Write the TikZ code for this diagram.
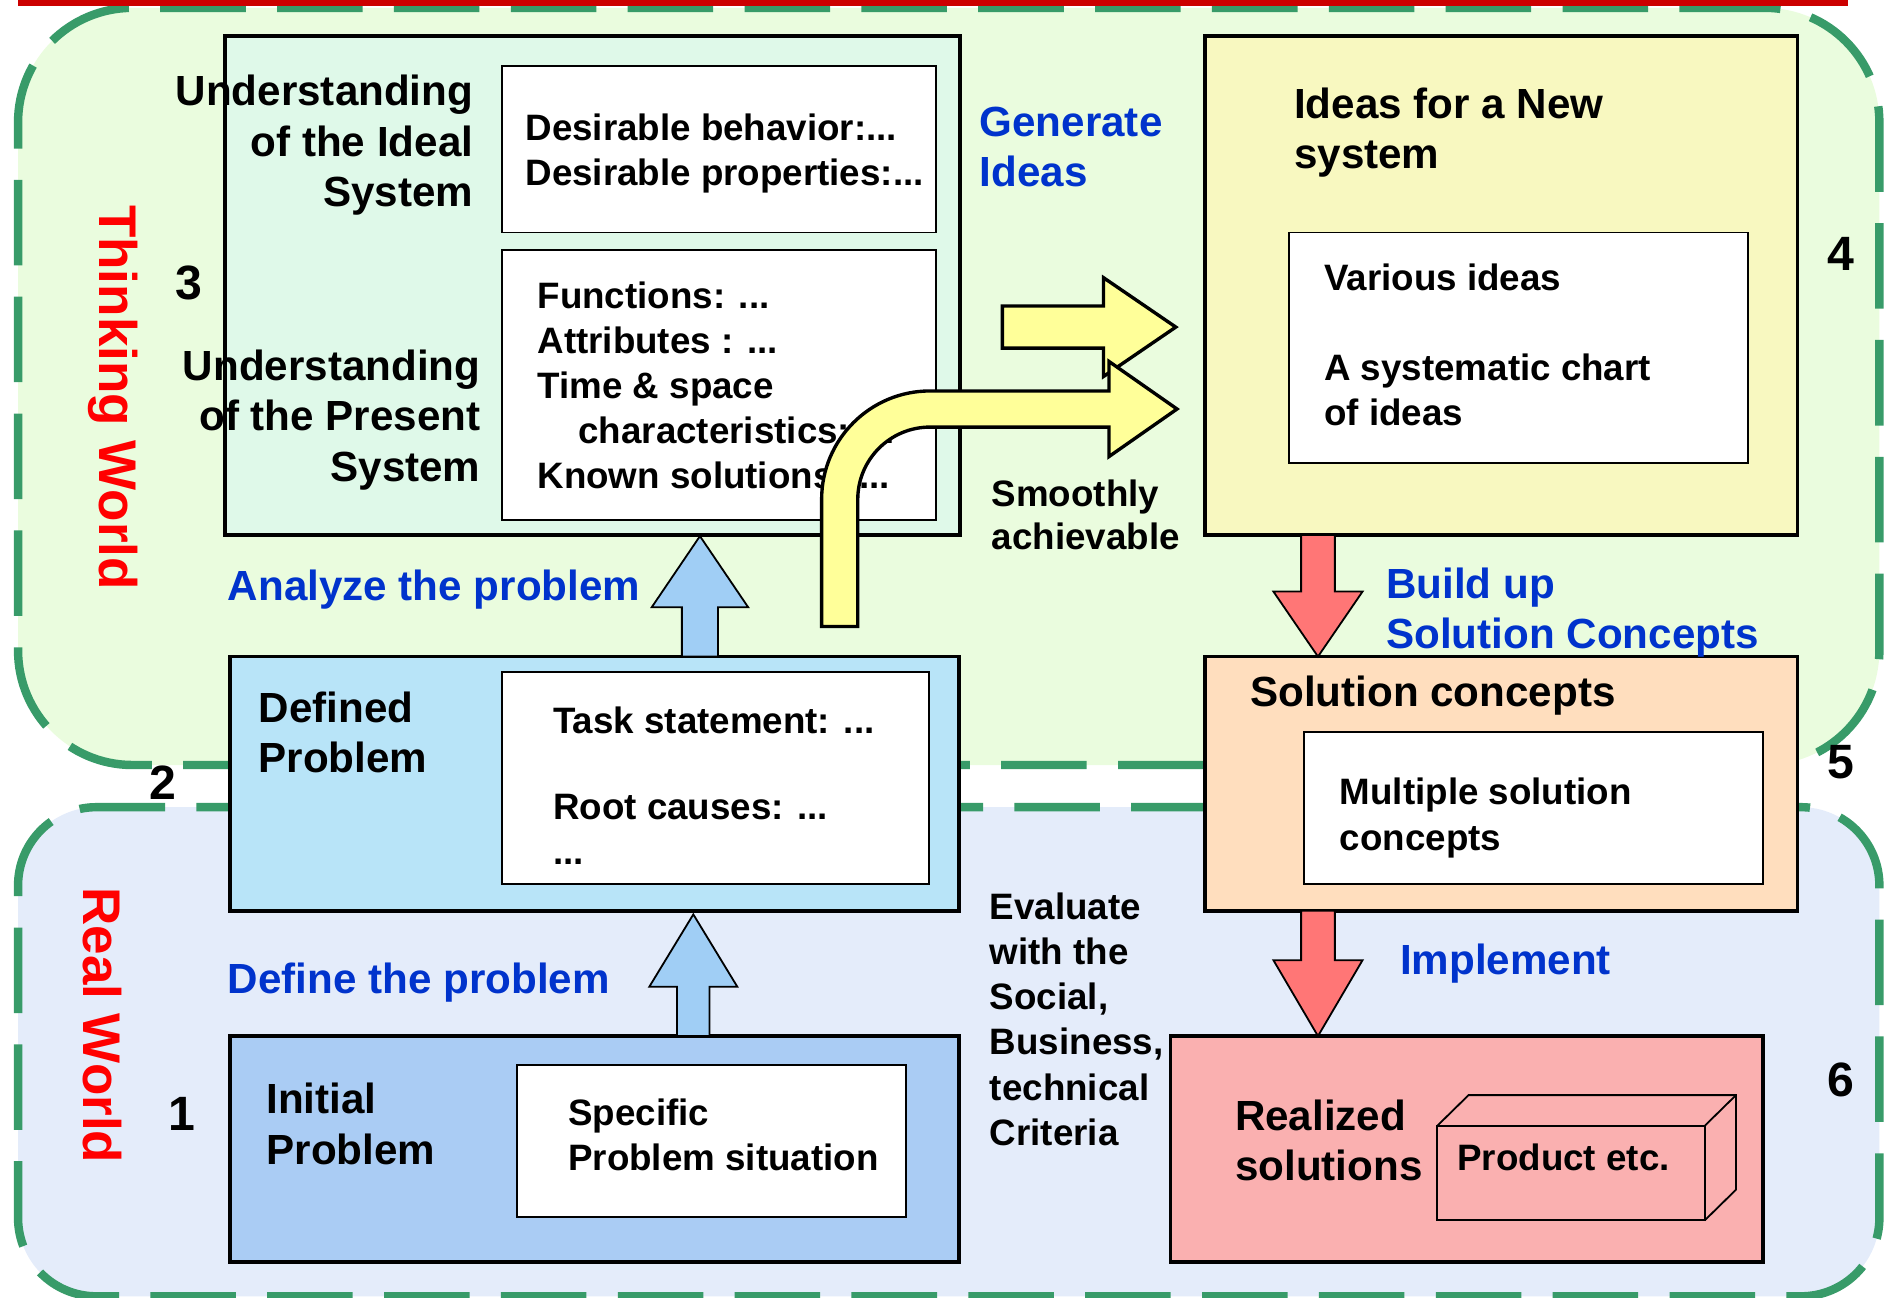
\documentclass[tikz,border=0pt]{standalone}
\usepackage{fontspec}
\setmainfont{Liberation Sans}
\usetikzlibrary{calc}

\definecolor{worldgreen}{RGB}{56,155,105}
\definecolor{thinkfill}{RGB}{234,252,222}
\definecolor{realfill}{RGB}{228,236,250}
\definecolor{understandfill}{RGB}{223,249,233}
\definecolor{ideasfill}{RGB}{248,248,192}
\definecolor{solutionfill}{RGB}{255,222,190}
\definecolor{realizedfill}{RGB}{250,176,176}
\definecolor{definedfill}{RGB}{184,228,248}
\definecolor{initialfill}{RGB}{170,204,244}
\definecolor{arrowblue}{RGB}{160,206,245}
\definecolor{arrowred}{RGB}{255,118,118}
\definecolor{arrowyellow}{RGB}{255,255,153}
\definecolor{labelblue}{RGB}{0,51,204}
\definecolor{worldred}{RGB}{255,0,0}
\definecolor{topred}{RGB}{204,0,0}

\begin{document}
\begin{tikzpicture}[x=1pt, y=-1pt,
  world/.style={draw=worldgreen, line width=7pt, dash pattern=on 71pt off 26pt, anchor=north west, inner sep=0pt, outer sep=0pt},
  box/.style={draw, line width=3pt, anchor=north west, inner sep=0pt, outer sep=0pt},
  inbox/.style={draw, fill=white, line width=1.6pt, anchor=north west, inner sep=0pt, outer sep=0pt},
  headtxt/.style={anchor=north west, inner sep=0pt, align=left, font=\fontsize{35}{42}\selectfont\bfseries},
  bodytxt/.style={anchor=north west, inner sep=0pt, align=left, font=\fontsize{30.5}{37.5}\selectfont\bfseries},
  actiontxt/.style={headtxt, text=labelblue},
  num/.style={inner sep=0pt, font=\fontsize{40}{48}\selectfont\bfseries},
  worldname/.style={inner sep=0pt, rotate=-90, text=worldred, font=\fontsize{44}{52}\selectfont\bfseries},
  blockblue/.style={draw, line width=1.5pt, fill=arrowblue},
  blockred/.style={draw, line width=1.5pt, fill=arrowred},
  blockyellow/.style={draw, line width=2.8pt, fill=arrowyellow},
]
\useasboundingbox (0,0) rectangle (1568,1077);

% World regions
\node[world, fill=thinkfill, rounded corners=95pt, minimum width=1545pt, minimum height=628.5pt] (thinking) at (15,6.5) {};
\node[world, fill=realfill, rounded corners=65pt, minimum width=1545pt, minimum height=406pt] (real) at (15,670) {};
\draw[topred, line width=10pt] (15,0) -- (1534,0);

% 3: Understanding
\node[box, fill=understandfill, minimum width=610pt, minimum height=414pt] (understand) at (187,30) {};
\node[inbox, minimum width=360pt, minimum height=138pt] (ideal) at (417,55) {};
\node[inbox, minimum width=360pt, minimum height=224.5pt] (present) at (417,207.5) {};
\node[headtxt, anchor=north east, align=right] (idealtxt) at (393,62) {Understanding\\of the Ideal\\System};
\node[bodytxt] (idealitems) at (436,94) {Desirable behavior:...\\Desirable properties:...};
\node[headtxt, anchor=north east, align=right] (presenttxt) at (399,290) {Understanding\\of the Present\\System};
\node[bodytxt] (presentitems) at (446,233.5) {Functions: ...\\Attributes : ...\\Time \& space\\\hspace*{34pt}characteristics: ...\\Known solutions: ...};

% 4: Ideas
\node[box, fill=ideasfill, minimum width=492pt, minimum height=414pt] (ideas) at (1000,30) {};
\node[inbox, minimum width=381pt, minimum height=191.5pt] (ideachart) at (1070,193) {};
\node[headtxt] (ideastxt) at (1074,72.5) {Ideas for a New\\system};
\node[bodytxt] (various) at (1099,218.5) {Various ideas};
\node[bodytxt] (chart) at (1099,293.5) {A systematic chart\\of ideas};

% 5: Solution concepts
\node[box, fill=solutionfill, minimum width=492pt, minimum height=211pt] (solution) at (1000,545) {};
\node[inbox, minimum width=381pt, minimum height=126pt] (multiple) at (1082.6,607.6) {};
\node[headtxt] (solutiontxt) at (1037.5,561) {Solution concepts};
\node[bodytxt] (multipletxt) at (1112,645.8) {Multiple solution\\concepts};

% 6: Realized solutions
\node[box, fill=realizedfill, minimum width=492pt, minimum height=187.5pt] (realized) at (971.5,860) {};
\node[headtxt] (realizedtxt) at (1025,912.5) {Realized\\solutions};
\node[draw, line width=1.5pt, anchor=north west, inner sep=0pt, outer sep=0pt, minimum width=222pt, minimum height=78.5pt] (product) at (1193,934.5) {};
\draw[line width=1.5pt] (product.north west) -- ++(26,-25.5) -| ($(product.south east)+(26,-25.5)$) -- (product.south east);
\draw[line width=1.5pt] (product.north east) -- ++(26,-25.5);
\node[bodytxt] (producttxt) at (1209.5,949) {Product etc.};

% 2: Defined problem
\node[box, fill=definedfill, minimum width=605pt, minimum height=211pt] (defined) at (191,545) {};
\node[inbox, minimum width=354pt, minimum height=176pt] (tasks) at (417,557.5) {};
\node[headtxt] (definedtxt) at (214.5,574) {Defined\\Problem};
\node[bodytxt] (tasktxt) at (459,586.4) {Task statement: ...};
\node[bodytxt] (causetxt) at (459,659.3) {Root causes: ...\\...};

% 1: Initial problem
\node[box, fill=initialfill, minimum width=605pt, minimum height=187.5pt] (initial) at (191,860) {};
\node[inbox, minimum width=322.5pt, minimum height=126pt] (situation) at (429.5,884) {};
\node[headtxt] (initialtxt) at (221,899) {Initial\\Problem};
\node[bodytxt] (situationtxt) at (471.5,912) {Specific\\Problem situation};

% Define the problem
\draw[blockblue] let \p1=([xshift=82pt]initial.north), \p2=(defined.south) in
  (\x1-13.5pt,\y1) -- (\x1-13.5pt,\y2-63pt) -- (\x1-36.5pt,\y2-63pt) -- (\x1,\y2-3pt)
  -- (\x1+36.5pt,\y2-63pt) -- (\x1+13.5pt,\y2-63pt) -- (\x1+13.5pt,\y1) -- cycle;

% Analyze the problem
\draw[blockblue] let \p1=([xshift=87.5pt]defined.north), \p2=(understand.south) in
  (\x1-15pt,\y1) -- (\x1-15pt,\y2-60pt) -- (\x1-40pt,\y2-60pt) -- (\x1,\y2-1pt)
  -- (\x1+40pt,\y2-60pt) -- (\x1+15pt,\y2-60pt) -- (\x1+15pt,\y1) -- cycle;

% Build up solution concepts
\draw[blockred] let \p1=([xshift=-152pt]ideas.south), \p2=(solution.north) in
  (\x1-14pt,\y1) -- (\x1-14pt,\y2+54pt) -- (\x1-37pt,\y2+54pt) -- (\x1,\y2)
  -- (\x1+37pt,\y2+54pt) -- (\x1+14pt,\y2+54pt) -- (\x1+14pt,\y1) -- cycle;

% Implement
\draw[blockred] let \p1=([xshift=-152pt]solution.south), \p2=(realized.north) in
  (\x1-14pt,\y1) -- (\x1-14pt,\y2+63pt) -- (\x1-37pt,\y2+63pt) -- (\x1,\y2)
  -- (\x1+37pt,\y2+63pt) -- (\x1+14pt,\y2+63pt) -- (\x1+14pt,\y1) -- cycle;

% Generate ideas
\draw[blockyellow] let \p1=(understand.east), \p2=(ideas.west) in
  (\x1+35pt,\y1-17pt) -- (\x2-84pt,\y1-17pt) -- (\x2-84pt,\y1+6.5pt) -- (\x2-24pt,\y1-34.5pt)
  -- (\x2-84pt,\y1-75.5pt) -- (\x2-84pt,\y1-52pt) -- (\x1+35pt,\y1-52pt) -- cycle;

% Smoothly achievable
\draw[blockyellow] (682,520) -- (682,414.5) arc[start angle=180, end angle=90, radius=90pt]
  -- (920.5,324.5) -- (920.5,300) -- ($(ideas.west)+(-23,102.5)$) -- (920.5,379)
  -- (920.5,354.5) -- (772,354.5) arc[start angle=90, end angle=180, radius=60pt]
  -- (712,520) -- cycle;

% Labels
\node[actiontxt] (generate) at (813,88.5) {Generate\\Ideas};
\node[actiontxt] (analyze) at (189,472.5) {Analyze the problem};
\node[actiontxt] (define) at (189,799) {Define the problem};
\node[actiontxt] (buildup) at (1150.5,471) {Build up\\Solution Concepts};
\node[actiontxt] (implement) at (1162,783.5) {Implement};
\node[bodytxt, font=\fontsize{30.5}{36}\selectfont\bfseries] (smooth) at (823,398) {Smoothly\\achievable};
\node[bodytxt] (evaluate) at (821.5,740.8) {Evaluate\\with the\\Social,\\Business,\\technical\\Criteria};

% Numbers
\node[num] (n1) at (151,924.5) {1};
\node[num] (n2) at (135,650) {2};
\node[num] (n3) at (156.5,235) {3};
\node[num] (n4) at (1528,211) {4};
\node[num] (n5) at (1528,632.5) {5};
\node[num] (n6) at (1528,896) {6};

% Worlds
\node[worldname] (thinkingtxt) at (94,330) {Thinking World};
\node[worldname] (realtxt) at (85,851) {Real World};
\end{tikzpicture}
\end{document}
